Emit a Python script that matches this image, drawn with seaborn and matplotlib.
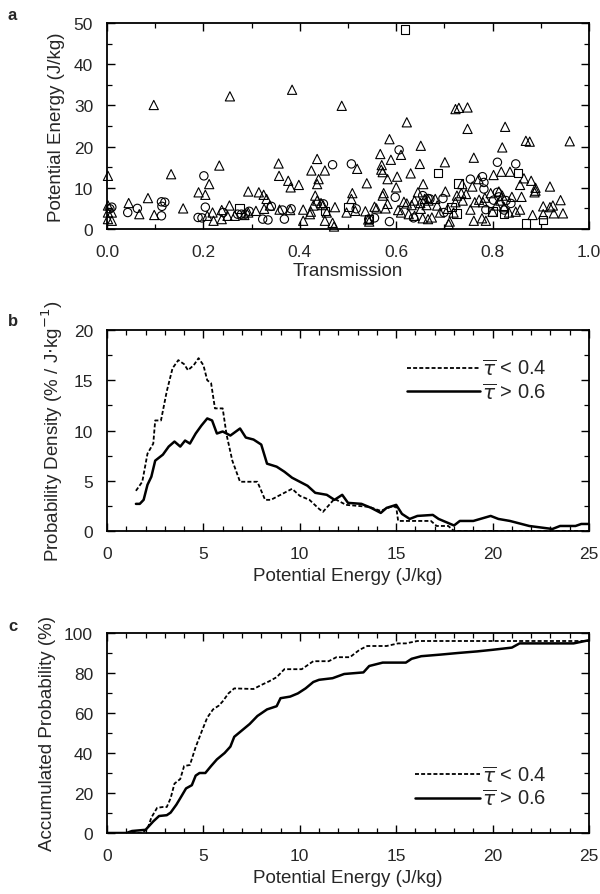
import numpy as np
import pandas as pd
import matplotlib
matplotlib.use("Agg")
import matplotlib.pyplot as plt
from matplotlib.ticker import MultipleLocator
import seaborn as sns

# ---------------- Panel a data ----------------
tri_x = [0.002, 0.097, 0.255, 0.384, 0.487, 0.622, 0.723, 0.730, 0.748, 0.748, 0.826, 0.869, 0.877, 0.960,
         0.586, 0.651, 0.820, 0.567, 0.610, 0.589, 0.761, 0.436, 0.356, 0.649, 0.701, 0.233, 0.570, 0.452,
         0.424, 0.519, 0.569, 0.572, 0.133, 0.357, 0.630, 0.602, 0.802, 0.818, 0.836, 0.865, 0.880, 0.582,
         0.376, 0.439, 0.771, 0.212, 0.381, 0.398, 0.436, 0.539, 0.857, 0.919, 0.889, 0.758, 0.737, 0.656,
         0.600, 0.190, 0.204, 0.293, 0.315, 0.325, 0.085, 0.645, 0.702, 0.726, 0.735, 0.887, 0.889, 0.796,
         0.784, 0.840, 0.860, 0.941, 0.432, 0.574, 0.572, 0.509, 0.507, 0.331, 0.045, 0.158, 0.254, 0.309,
         0.338, 0.358, 0.380, 0.326, 0.407, 0.067, 0.098, 0.219, 0.238, 0.423, 0.421, 0.428, 0.436, 0.444,
         0.448, 0.473, 0.456, 0.221, 0.238, 0.407, 0.452, 0.471, 0.468, 0.497, 0.515, 0.536, 0.555, 0.559,
         0.578, 0.582, 0.604, 0.610, 0.616, 0.622, 0.632, 0.638, 0.650, 0.651, 0.659, 0.663, 0.667, 0.681,
         0.685, 0.674, 0.655, 0.666, 0.691, 0.707, 0.711, 0.709, 0.719, 0.723, 0.738, 0.754, 0.761, 0.772,
         0.780, 0.778, 0.786, 0.800, 0.808, 0.816, 0.824, 0.834, 0.848, 0.857, 0.883, 0.905, 0.905, 0.919,
         0.925, 0.927, 0.946, 0.002, 0.002, 0.002, 0.010, 0.010, 0.542, 0.544, 0.745, 0.813, 0.820, 0.285,
         0.265, 0.250, 0.293, 0.208, 0.763, 0.626, 0.638]
tri_y = [12.9, 30.1, 32.2, 33.8, 29.9, 25.9, 29.1, 29.4, 29.5, 24.3, 24.8, 21.4, 21.2, 21.3,
         21.8, 20.2, 19.8, 18.2, 18.0, 16.8, 17.3, 17.0, 15.9, 15.8, 16.2, 15.4, 15.5, 14.2,
         14.2, 14.6, 14.4, 13.8, 13.3, 12.9, 13.5, 12.7, 13.1, 13.9, 13.9, 12.3, 11.7, 12.1,
         11.7, 12.1, 12.1, 10.9, 10.1, 10.7, 10.9, 11.1, 10.7, 10.3, 10.0, 10.3, 10.9, 10.9,
         10.1, 8.9, 8.3, 9.1, 8.9, 8.3, 7.5, 8.9, 9.1, 8.1, 8.7, 8.9, 9.3, 8.7,
         7.6, 7.8, 7.8, 7.0, 8.1, 8.7, 8.1, 8.7, 7.3, 7.3, 6.3, 5.0, 5.7, 4.4,
         5.7, 4.7, 4.6, 4.9, 4.7, 3.6, 3.4, 4.0, 4.6, 4.2, 3.6, 5.7, 6.9, 6.3,
         5.8, 5.3, 4.0, 2.0, 2.4, 2.0, 2.0, 0.6, 1.5, 4.0, 4.4, 4.3, 5.4, 5.0,
         5.0, 6.1, 4.6, 4.0, 6.6, 6.2, 5.8, 6.9, 6.3, 4.9, 7.3, 5.8, 6.9, 7.3,
         5.7, 2.8, 2.6, 2.4, 4.0, 4.9, 1.8, 1.2, 4.0, 6.5, 6.9, 4.7, 2.0, 7.1,
         6.5, 2.6, 2.0, 4.2, 5.7, 6.9, 5.3, 4.0, 4.2, 4.7, 3.4, 3.6, 5.5, 5.3,
         5.7, 3.8, 3.8, 5.7, 4.0, 2.4, 2.0, 4.0, 2.3, 1.8, 8.5, 9.1, 8.1, 3.4,
         3.2, 3.2, 4.0, 3.2, 6.5, 3.6, 3.2]
circ_x = [0.010, 0.006, 0.043, 0.063, 0.113, 0.114, 0.120, 0.113, 0.189, 0.197, 0.201, 0.204, 0.241,
          0.271, 0.279, 0.287, 0.295, 0.323, 0.334, 0.341, 0.364, 0.368, 0.468, 0.507, 0.517, 0.543,
          0.555, 0.586, 0.598, 0.606, 0.636, 0.670, 0.697, 0.699, 0.754, 0.779, 0.782, 0.782, 0.786,
          0.810, 0.810, 0.813, 0.848, 0.802, 0.824, 0.828, 0.838, 0.382, 0.449, 0.666, 0.655]
circ_y = [5.3, 4.9, 4.0, 5.0, 6.6, 5.5, 6.5, 3.2, 2.8, 2.7, 12.9, 5.3, 4.0,
          3.6, 3.6, 3.6, 4.3, 2.4, 2.2, 5.5, 4.6, 2.4, 15.6, 15.8, 4.9, 2.4,
          2.7, 1.8, 7.7, 19.2, 2.7, 7.3, 7.4, 4.0, 12.1, 12.7, 11.3, 9.7, 4.7,
          16.2, 8.9, 7.8, 15.8, 7.0, 4.6, 6.9, 6.2, 4.9, 6.1, 7.4, 8.1]
sq_x = [0.618, 0.687, 0.853, 0.729, 0.725, 0.715, 0.275, 0.452, 0.501, 0.544, 0.869, 0.905, 0.800, 0.824]
sq_y = [48.4, 13.6, 13.6, 11.1, 3.8, 5.3, 5.0, 4.4, 5.3, 2.4, 1.4, 2.2, 4.2, 3.6]

# ---------------- Panel b data ----------------
pd_low_x = [1.5, 1.83, 2.1, 2.4, 2.5, 2.8, 3.1, 3.4, 3.7, 4.0, 4.2, 4.5, 4.75, 5.0, 5.2, 5.4, 5.6, 6.0,
            6.2, 6.5, 6.9, 7.6, 7.8, 8.2, 8.5, 9.1, 9.6, 10.0, 10.5, 11.0, 11.2, 11.8, 12.4, 13.6, 14.2,
            14.7, 15.0, 15.1, 16.8, 17.1, 17.7, 18.0, 25.0]
pd_low_y = [4.0, 4.9, 7.7, 8.7, 11.0, 11.0, 13.9, 16.2, 17.0, 16.6, 16.0, 16.5, 17.2, 16.5, 15.0, 14.7,
            12.2, 12.2, 9.6, 7.0, 4.9, 4.9, 4.9, 3.1, 3.1, 3.7, 4.2, 3.5, 3.1, 2.2, 1.9, 3.2, 2.6, 2.4,
            2.0, 2.4, 2.4, 1.0, 1.0, 0.5, 0.5, 0.0, 0.0]
pd_high_x = [1.5, 1.7, 1.9, 2.1, 2.3, 2.5, 2.9, 3.2, 3.5, 3.8, 4.05, 4.3, 4.6, 4.9, 5.2, 5.45, 5.7, 6.0,
             6.4, 6.9, 7.2, 7.6, 8.0, 8.3, 8.8, 9.2, 9.6, 10.1, 10.4, 10.8, 11.4, 11.8, 12.2, 12.5, 13.2,
             13.7, 14.2, 14.5, 15.0, 15.3, 15.7, 16.1, 16.9, 17.2, 18.0, 18.3, 19.0, 19.9, 20.3, 20.9,
             21.9, 23.1, 23.5, 24.3, 24.6, 25.0]
pd_high_y = [2.7, 2.7, 3.1, 4.6, 5.4, 7.0, 7.6, 8.4, 8.9, 8.4, 9.0, 8.7, 9.7, 10.5, 11.2, 11.0, 9.7, 9.9,
             9.5, 10.2, 9.3, 9.1, 8.6, 6.7, 6.4, 5.9, 5.3, 4.8, 4.5, 3.8, 3.6, 3.1, 3.6, 2.8, 2.7,
             2.3, 1.8, 2.3, 2.6, 1.7, 1.2, 1.5, 1.6, 1.2, 0.55, 1.0, 1.0, 1.5, 1.2, 1.0,
             0.5, 0.2, 0.5, 0.5, 0.7, 0.7]

# ---------------- Panel c data ----------------
ac_low_x = [0.0, 1.8, 2.1, 2.3, 2.6, 2.9, 3.1, 3.3, 3.5, 3.8, 4.0, 4.3, 4.6, 4.9, 5.2, 5.5, 5.8, 6.0,
            6.3, 6.6, 7.6, 8.0, 8.4, 8.8, 9.2, 10.1, 10.7, 11.5, 11.9, 12.6, 13.1, 13.5, 14.5, 15.1,
            15.5, 16.1, 25.0]
ac_low_y = [0, 0, 2, 7.7, 12.6, 13, 13, 17.4, 24.7, 27, 33.5, 34, 43, 50.5, 57.7, 61.8, 63.7, 65.8,
            69.8, 72.3, 72, 74, 75.8, 77.9, 81.9, 81.9, 85.9, 85.9, 87.9, 87.9, 91.6, 93.5, 93.5, 94.8,
            94.8, 96, 96]
ac_high_x = [0.0, 1.0, 1.3, 2.0, 2.2, 2.4, 2.7, 3.1, 3.3, 3.6, 3.8, 4.1, 4.4, 4.6, 4.8, 5.1, 5.4, 5.7,
             6.1, 6.4, 6.6, 7.0, 7.4, 7.8, 8.3, 8.8, 9.0, 9.5, 9.9, 10.3, 10.7, 11.0, 11.7, 12.3, 13.3,
             13.6, 14.3, 15.5, 15.8, 16.3, 17.3, 18.2, 19.2, 20.0, 21.0, 21.4, 24.2, 25.0]
ac_high_y = [0, 0, 1, 1.6, 3.7, 5.8, 8.5, 8.9, 10.2, 14.2, 17.4, 22.3, 23.9, 28.7, 30, 30, 33.5, 36.8,
             40, 43.2, 48.1, 51.3, 54.5, 58.5, 61.8, 63.4, 67.4, 68.2, 69.8, 72.3, 75.5, 76.6, 77.4, 79.5,
             80.3, 83.5, 85.2, 85.2, 87.1, 88.4, 89.2, 90, 90.8, 91.6, 92.7, 94.8, 94.8, 96.4]

legend_low = r"$\overline{\tau}$ < 0.4"
legend_high = r"$\overline{\tau}$ > 0.6"

sns.set_style("ticks")
plt.rcParams["font.family"] = ["Liberation Sans Narrow", "Liberation Sans", "DejaVu Sans"]
plt.rcParams["mathtext.fontset"] = "dejavusans"

W, H = 600, 895
fig = plt.figure(figsize=(W / 100, H / 100), dpi=100)

def rect(top, bottom, left=107, right=589):
    return [left / W, 1 - bottom / H, (right - left) / W, (bottom - top) / H]

axa = fig.add_axes(rect(24, 230))
axb = fig.add_axes(rect(331, 532))
axc = fig.add_axes(rect(634, 834))

fs = 12.5

def style(ax):
    for s in ax.spines.values():
        s.set_linewidth(1.3)
        s.set_color("black")
    ax.tick_params(which="both", direction="in", top=True, right=True, color="black")
    ax.tick_params(which="major", length=6, width=1.0, labelsize=fs)
    ax.tick_params(which="minor", length=3.5, width=0.9)
    ax.tick_params(axis="x", which="major", pad=11)
    ax.tick_params(axis="y", which="major", pad=10)

# Panel a
dfa = pd.concat([
    pd.DataFrame({"t": tri_x, "pe": tri_y, "kind": "tri"}),
    pd.DataFrame({"t": circ_x, "pe": circ_y, "kind": "circ"}),
    pd.DataFrame({"t": sq_x, "pe": sq_y, "kind": "sq"}),
])
marks = {"tri": ("^", 44), "circ": ("o", 36), "sq": ("s", 38)}
for k, (m, sz) in marks.items():
    sub = dfa[dfa["kind"] == k]
    sns.scatterplot(data=sub, x="t", y="pe", marker=m, s=sz,
                    facecolor="none", edgecolor="black", linewidth=0.8, ax=axa, legend=False,
                    clip_on=False, zorder=3)
axa.set_xlim(0, 1.0)
axa.set_ylim(0, 50)
axa.xaxis.set_minor_locator(MultipleLocator(0.1))
axa.yaxis.set_major_locator(MultipleLocator(10))
axa.yaxis.set_minor_locator(MultipleLocator(5))
axa.set_xticks([0, 0.2, 0.4, 0.6, 0.8, 1.0])
axa.set_xticklabels(["0.0", "0.2", "0.4", "0.6", "0.8", "1.0"])
axa.set_xlabel("Transmission", fontsize=fs + 1, labelpad=2)
axa.set_ylabel("Potential Energy (J/kg)", fontsize=fs + 1, labelpad=6)
style(axa)

dash = (0, (2.2, 1.2))

# Panel b
sns.lineplot(x=pd_low_x, y=pd_low_y, ax=axb, color="black", linestyle=dash, linewidth=1.3,
             sort=False, estimator=None, label=legend_low)
sns.lineplot(x=pd_high_x, y=pd_high_y, ax=axb, color="black", linestyle="-", linewidth=1.8,
             sort=False, estimator=None, label=legend_high)
axb.set_xlim(0, 25)
axb.set_ylim(0, 20)
axb.xaxis.set_major_locator(MultipleLocator(5))
axb.xaxis.set_minor_locator(MultipleLocator(1))
axb.yaxis.set_major_locator(MultipleLocator(5))
axb.yaxis.set_minor_locator(MultipleLocator(2.5))
axb.set_xlabel("Potential Energy (J/kg)", fontsize=fs + 1, labelpad=4)
axb.set_ylabel(r"Probability Density (% / J$\cdot$kg$^{-1}$)", fontsize=fs + 1, labelpad=6)
style(axb)
axb.legend(loc="upper right", bbox_to_anchor=(0.94, 0.93), frameon=False, fontsize=fs + 2,
           handlelength=3.6, handletextpad=0.1, labelspacing=0.15, borderpad=0.2)

# Panel c
sns.lineplot(x=ac_low_x, y=ac_low_y, ax=axc, color="black", linestyle=dash, linewidth=1.3,
             sort=False, estimator=None, label=legend_low)
sns.lineplot(x=ac_high_x, y=ac_high_y, ax=axc, color="black", linestyle="-", linewidth=1.8,
             sort=False, estimator=None, label=legend_high)
axc.set_xlim(0, 25)
axc.set_ylim(0, 100)
axc.xaxis.set_major_locator(MultipleLocator(5))
axc.xaxis.set_minor_locator(MultipleLocator(1))
axc.yaxis.set_major_locator(MultipleLocator(20))
axc.yaxis.set_minor_locator(MultipleLocator(10))
axc.set_xlabel("Potential Energy (J/kg)", fontsize=fs + 1, labelpad=4)
axc.set_ylabel("Accumulated Probability (%)", fontsize=fs + 1, labelpad=6)
style(axc)
axc.legend(loc="lower right", bbox_to_anchor=(0.94, 0.05), frameon=False, fontsize=fs + 2,
           handlelength=3.2, handletextpad=0.1, labelspacing=0.15, borderpad=0.2)

for lab, y in (("a", 15), ("b", 322), ("c", 627)):
    fig.text(8 / W, 1 - y / H, lab, fontsize=12, fontweight="bold", ha="left", va="center",
             family="Liberation Sans")

fig.savefig("out.png", dpi=100, facecolor="white")
